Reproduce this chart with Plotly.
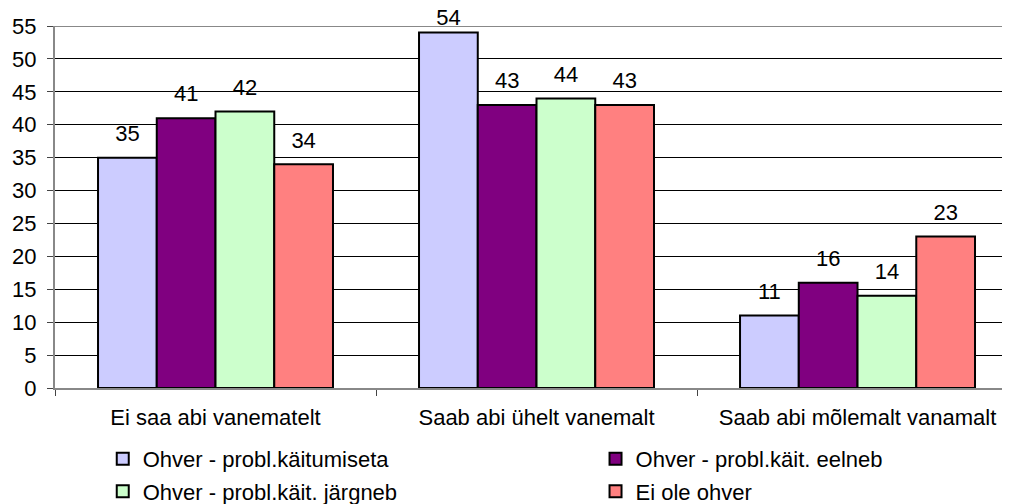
import plotly.graph_objects as go

categories = ["Ei saa abi vanematelt", "Saab abi ühelt vanemalt", "Saab abi mõlemalt vanamalt"]
series_names = ["Ohver - probl.käitumiseta", "Ohver - probl.käit. eelneb",
                "Ohver - probl.käit. järgneb", "Ei ole ohver"]
values_s1 = [35, 54, 11]
values_s2 = [41, 43, 16]
values_s3 = [42, 44, 14]
values_s4 = [34, 43, 23]
colors = ["#CCCCFF", "#800080", "#CCFFCC", "#FF8080"]
legend_ids = ["legend", "legend2", "legend", "legend2"]
y_ticks = list(range(0, 56, 5))
y_max = 55

FONT = "Liberation Sans, Arial, sans-serif"
FS = 22

label_raised = "<span style='font-size:%dpx'>%%{y}</span><br>\u00a0" % FS
label_clamped = "<span style='font-size:%dpx'>%%{y}</span>" % FS

fig = go.Figure()
for name, vals, col, lg in zip(series_names, [values_s1, values_s2, values_s3, values_s4], colors, legend_ids):
    # labels near the top of the axis are kept inside the chart area (as in the original)
    templates = [label_clamped if v > y_max - 3 else label_raised for v in vals]
    fig.add_trace(go.Bar(
        x=categories, y=vals, name=name, legend=lg, legendgroup=name,
        marker=dict(color=col, line=dict(color="black", width=2)),
        text=vals, texttemplate=templates,
        textposition="outside", cliponaxis=False, constraintext="none",
        textfont=dict(family=FONT, size=9, color="black"),
    ))

fig.add_shape(type="line", xref="paper", yref="y", x0=0, x1=1, y0=y_max, y1=y_max,
              line=dict(color="#888888", width=2), layer="above")

leg_common = dict(orientation="v", yanchor="top", xanchor="left",
                  font=dict(family=FONT, size=FS), tracegroupgap=1,
                  bgcolor="rgba(0,0,0,0)")
fig.update_layout(
    width=1002, height=496,
    margin=dict(l=47, r=0, t=18, b=116, autoexpand=False),
    paper_bgcolor="white", plot_bgcolor="white",
    barmode="group", bargap=0.268, bargroupgap=0,
    font=dict(family=FONT, size=FS, color="black"),
    showlegend=True,
    legend=dict(x=0.050, y=-0.138, **leg_common),
    legend2=dict(x=0.566, y=-0.138, **leg_common),
    xaxis=dict(type="category", range=[-0.5, 2.475], automargin=False,
               showline=True, linecolor="#888888", linewidth=2,
               ticks="outside", tickson="boundaries", ticklen=6, tickcolor="#444444",
               ticklabelstandoff=9,
               showgrid=False, tickfont=dict(family=FONT, size=FS)),
    yaxis=dict(range=[0, y_max], tickvals=y_ticks, automargin=False,
               showline=True, linecolor="#888888", linewidth=2,
               ticks="outside", ticklen=6, tickcolor="#444444", ticklabelstandoff=6,
               showgrid=True, gridcolor="black",
               gridwidth=1, zeroline=False, tickfont=dict(family=FONT, size=FS)),
)

fig.write_html("out.html")
